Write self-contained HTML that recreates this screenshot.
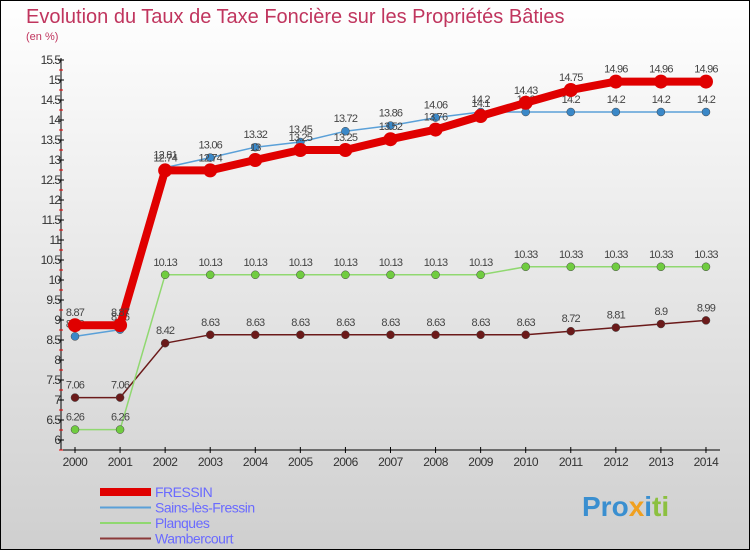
<!DOCTYPE html>
<html><head><meta charset="utf-8"><style>
body{margin:0}
svg{display:block;font-family:"Liberation Sans",sans-serif}
</style></head><body>
<svg width="750" height="550" xmlns="http://www.w3.org/2000/svg">
<defs><linearGradient id="bg" x1="0" y1="0" x2="0" y2="1"><stop offset="0" stop-color="#ffffff"/><stop offset="1" stop-color="#cfcfcf"/></linearGradient></defs>
<rect x="0.5" y="0.5" width="749" height="549" fill="url(#bg)" stroke="#000"/>
<text x="26" y="23" font-size="20" fill="#c0355e">Evolution du Taux de Taxe Foncière sur les Propriétés Bâties</text>
<text x="26" y="40" font-size="11" fill="#c0355e">(en %)</text>
<g id="axes"></g>
<g id="series"></g>
<g id="legend"></g>
<text x="582" y="516" font-size="28" font-weight="bold" fill="#3a8fd0">Pro<tspan fill="#f0a020">x</tspan><tspan fill="#3a8fd0">i</tspan><tspan fill="#8cc040">ti</tspan></text>
<script>
const years=[2000,2001,2002,2003,2004,2005,2006,2007,2008,2009,2010,2011,2012,2013,2014];
const yTicks=[6,6.5,7,7.5,8,8.5,9,9.5,10,10.5,11,11.5,12,12.5,13,13.5,14,14.5,15,15.5];
const fressin=[8.87,8.87,12.74,12.74,13,13.25,13.25,13.52,13.76,14.1,14.43,14.75,14.96,14.96,14.96];
const sains=[8.59,8.76,12.81,13.06,13.32,13.45,13.72,13.86,14.06,14.2,14.2,14.2,14.2,14.2,14.2];
const planques=[6.26,6.26,10.13,10.13,10.13,10.13,10.13,10.13,10.13,10.13,10.33,10.33,10.33,10.33,10.33];
const wamber=[7.06,7.06,8.42,8.63,8.63,8.63,8.63,8.63,8.63,8.63,8.63,8.72,8.81,8.9,8.99];
const names=["FRESSIN","Sains-lès-Fressin","Planques","Wambercourt"];
const NS="http://www.w3.org/2000/svg";
const X=i=>75+i*45.07, Y=v=>440-(v-6)*40;
function mk(p,t,a){const e=document.createElementNS(NS,t);for(const k in a)e.setAttribute(k,a[k]);p.appendChild(e);return e;}
const ax=document.getElementById('axes');
let l=mk(ax,'line',{x1:61,y1:58,x2:61,y2:450,stroke:'#000','stroke-width':1});


l=mk(ax,'line',{x1:61,y1:450,x2:720,y2:450,stroke:'#000','stroke-width':1});


yTicks.forEach(v=>{
 mk(ax,'line',{x1:58,y1:Y(v),x2:64,y2:Y(v),stroke:'#000'});
 mk(ax,'line',{x1:59,y1:Y(v)+10,x2:63,y2:Y(v)+10,stroke:'#e00'});
 const t=mk(ax,'text',{x:60,y:Y(v)+4,'font-size':12,fill:'#333','text-anchor':'end','letter-spacing':'-1'});
 t.textContent=v;
 
 
});
years.forEach((y,i)=>{
 mk(ax,'line',{x1:X(i),y1:447,x2:X(i),y2:453,stroke:'#000'});
 const t=mk(ax,'text',{x:X(i),y:466,'font-size':12,fill:'#333','text-anchor':'middle','letter-spacing':'-0.5'});
 t.textContent=y;
 
 
});
const sg=document.getElementById('series');
const defs=[[wamber,'#6b1a1a',1.5,4,'#6b1a1a'],[planques,'#90d870',1.5,4,'#70cc40'],[sains,'#5aa0d8',1.5,4,'#3a88c8'],[fressin,'#e00000',8,7,'#e00000']];
const draw=[];
defs.forEach(([d,c,w,r,f],k)=>{
 const g=mk(sg,'g',{});
 
 
 mk(g,'polyline',{points:d.map((v,i)=>X(i)+','+Y(v)).join(' '),fill:'none',stroke:c,'stroke-width':w,'stroke-linejoin':'round'});
 d.forEach((v,i)=>{
  const p=mk(g,'circle',{cx:X(i),cy:Y(v),r:r,fill:f,stroke:k==3?'none':'#444','stroke-width':0.5});
  
  
  const t=mk(g,'text',{x:X(i),y:Y(v)-9,'font-size':11,fill:'#444','text-anchor':'middle','letter-spacing':'-0.8'});
  t.textContent=v;
  
  
 });
});
const lg=document.getElementById('legend');
const lc=[['#e00000',8],['#5aa0d8',2],['#90d870',2],['#8b3a3a',2]];
names.forEach((n,i)=>{
 const y=492+i*15.5;
 const g=mk(lg,'g',{});
 
 
 mk(g,'line',{x1:100,y1:y,x2:151,y2:y,stroke:lc[i][0],'stroke-width':lc[i][1]});
 const t=mk(g,'text',{x:155,y:y+5,'font-size':14,fill:'#6a6aff','letter-spacing':'-0.5'});
 t.textContent=n;
});
</script>
</svg>
</body></html>
